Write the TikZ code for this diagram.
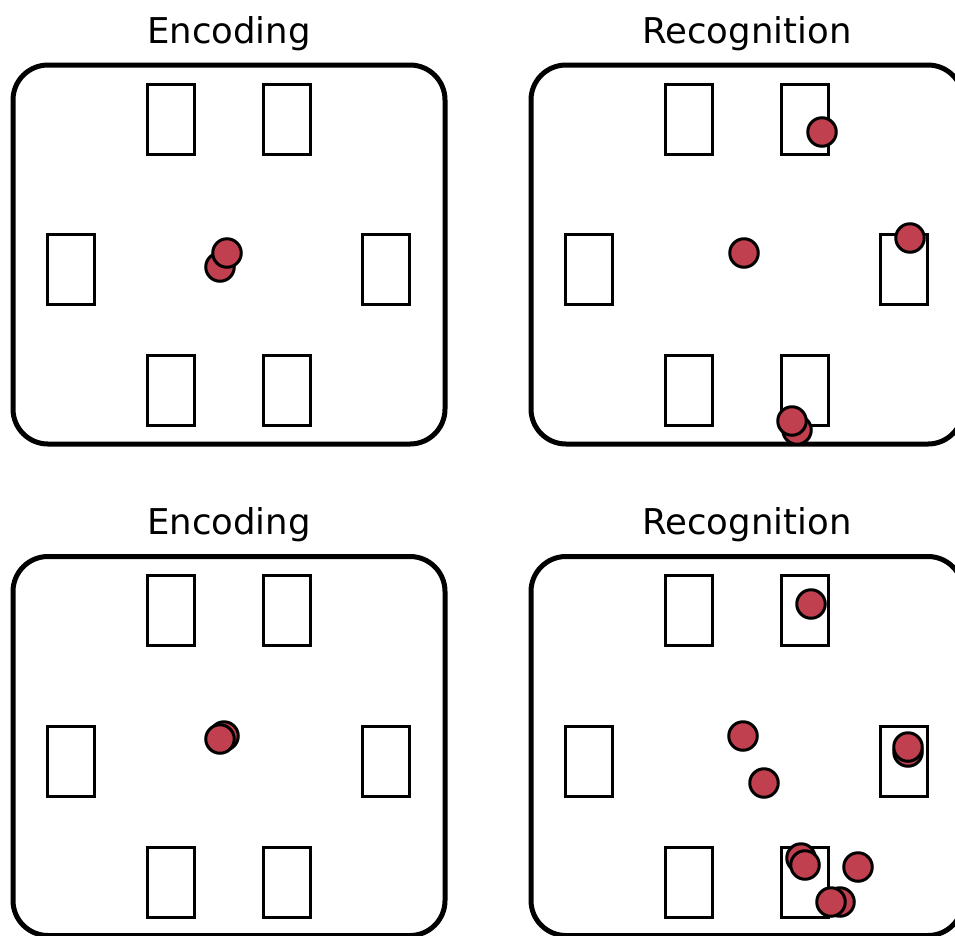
\documentclass[tikz,border=0pt]{standalone}
\usepackage{fontspec}
\setmainfont{DejaVu Sans}
\usepackage{xcolor}
\usetikzlibrary{positioning}
\definecolor{probered}{RGB}{192,64,80}

\begin{document}
\begin{tikzpicture}[x=1pt, y=-1pt,
  room/.style={draw, line width=5pt, rounded corners=35pt, minimum width=432pt, minimum height=379pt, inner sep=0pt},
  spot/.style={draw, line width=3pt, minimum width=47pt, minimum height=70pt, inner sep=0pt},
  probe/.style={circle, draw, fill=probered, line width=3pt, minimum size=28.5pt, inner sep=0pt},
  ptitle/.style={font=\fontsize{35.5}{40}\selectfont, anchor=base, inner sep=0pt}
]
\useasboundingbox (0,0) rectangle (955,935);
\clip (0,0) rectangle (955,935);

% --- Panels: title, room and six spots ---
\foreach \px/\py/\tag/\ttl in {0/0/ea/Encoding, 518/0/ra/Recognition, 0/491.5/eb/Encoding, 518/491.5/rb/Recognition}{
  \begin{scope}[shift={(\px,\py)}]
    \node[ptitle] (\tag-title) at (229,43) {\ttl};
    \node[room] (\tag-room) at (229,254.5) {};
    \node[spot] (\tag-tl) at (171,119) {};
    \node[spot] (\tag-tr) at (287,119) {};
    \node[spot] (\tag-ml) at (71,269.5) {};
    \node[spot] (\tag-mr) at (386,269.5) {};
    \node[spot] (\tag-bl) at (171,390.5) {};
    \node[spot] (\tag-br) at (287,390.5) {};
  \end{scope}
}

% --- Top left: encoding ---
\node[probe] (ea-p2) at (220,267) {};
\node[probe] (ea-p1) at (227,253) {};

% --- Top right: recognition ---
\node[probe] (ra-p1) at (822,132) {};
\node[probe] (ra-p2) at (744,253) {};
\node[probe] (ra-p3) at (910,238) {};
\node[probe] (ra-p5) at (797,430) {};
\node[probe] (ra-p4) at (792,421) {};

% --- Bottom left: encoding ---
\node[probe] (eb-p2) at (224,736) {};
\node[probe] (eb-p1) at (220,739) {};

% --- Bottom right: recognition ---
\node[probe] (rb-p1) at (811,604) {};
\node[probe] (rb-p2) at (743,736) {};
\node[probe] (rb-p3) at (764,783) {};
\node[probe] (rb-p5) at (908,752) {};
\node[probe] (rb-p4) at (908,747) {};
\node[probe] (rb-p7) at (801,858) {};
\node[probe] (rb-p6) at (805,865) {};
\node[probe] (rb-p8) at (858,867) {};
\node[probe] (rb-p10) at (840,902) {};
\node[probe] (rb-p9) at (831,902) {};

\end{tikzpicture}
\end{document}
